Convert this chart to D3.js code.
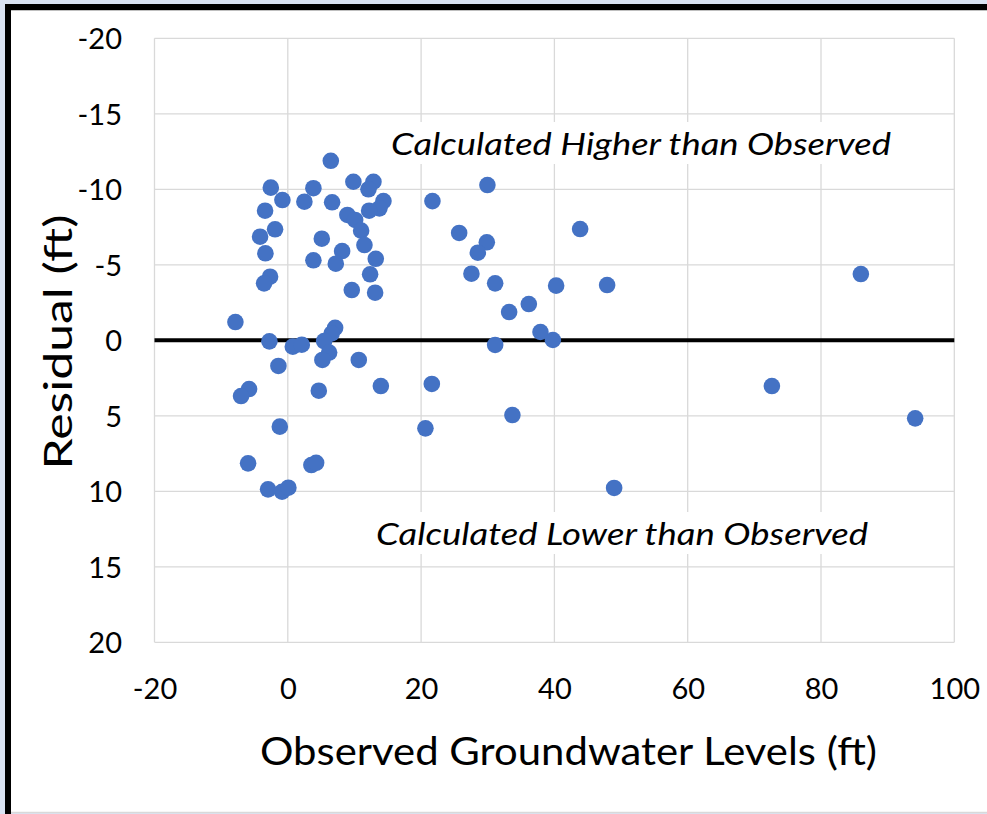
<!DOCTYPE html>
<html><head><meta charset="utf-8">
<script src="https://cdn.jsdelivr.net/npm/d3@7"></script>
<style>body{margin:0;padding:0;overflow:hidden;background:#dae3f3}</style>
</head><body>
<script>
const observed = [6.45,-2.55,3.84,9.84,12.85,12.1,-0.81,2.49,6.65,14.35,13.75,12.2,-3.41,8.94,10.1,11.0,11.5,-1.91,-4.16,5.1,8.15,-3.36,3.84,7.2,13.2,12.35,-2.66,-3.56,9.6,13.1,-7.86,7.1,6.57,-2.76,0.75,2.1,5.45,6.2,5.19,10.65,-1.41,-5.81,-7.01,4.65,13.96,-1.2,-5.96,3.54,4.25,-2.96,-0.86,0.09,29.95,21.7,43.86,25.71,29.86,28.51,27.55,31.11,40.26,36.16,33.21,37.91,39.77,31.11,21.61,20.65,33.7,47.91,48.96,85.98,72.63,94.13];
const residual = [-11.89,-10.11,-10.07,-10.5,-10.5,-10.0,-9.29,-9.18,-9.14,-9.22,-8.74,-8.58,-8.58,-8.3,-7.97,-7.26,-6.31,-7.35,-6.86,-6.73,-5.91,-5.76,-5.3,-5.07,-5.4,-4.37,-4.21,-3.77,-3.33,-3.15,-1.21,-0.83,-0.45,0.07,0.42,0.29,0.05,0.81,1.3,1.3,1.7,3.23,3.69,3.34,3.03,5.72,8.15,8.26,8.11,9.87,10.03,9.76,-10.28,-9.22,-7.37,-7.11,-6.49,-5.8,-4.41,-3.77,-3.62,-2.4,-1.87,-0.55,-0.02,0.31,2.89,5.83,4.95,-3.66,9.78,-4.39,3.03,5.17];
const xTicks = [-20,0,20,40,60,80,100];
const yTicks = [-20,-15,-10,-5,0,5,10,15,20];
const xTitle = "Observed Groundwater Levels (ft)";
const yTitle = "Residual (ft)";
const noteHigh = "Calculated Higher than Observed";
const noteLow = "Calculated Lower than Observed";

const W = 987, H = 814;
const svg = d3.select("body").append("svg").attr("width", W).attr("height", H);

// frame
svg.append("rect").attr("width", W).attr("height", H).attr("fill", "#dae3f3");
svg.append("rect").attr("x", 11).attr("y", 11).attr("width", W - 11).attr("height", 801).attr("fill", "#fff");
svg.append("rect").attr("x", 5).attr("y", 4).attr("width", W - 5).attr("height", 6).attr("fill", "#000");
svg.append("rect").attr("x", 5).attr("y", 4).attr("width", 6).attr("height", H - 4).attr("fill", "#000");
svg.append("line").attr("x1", 11).attr("x2", W).attr("y1", 10.5).attr("y2", 10.5).attr("stroke", "#bfbfbf").attr("stroke-width", 1);
svg.append("line").attr("x1", 11).attr("x2", W).attr("y1", 812.5).attr("y2", 812.5).attr("stroke", "#d9d9d9").attr("stroke-width", 1.5);

const x = d3.scaleLinear().domain([-20, 100]).range([154.5, 954.3]);
const y = d3.scaleLinear().domain([-20, 20]).range([38.3, 642.3]);

const font = "Lato, 'Open Sans', sans-serif";

// gridlines
const grid = svg.append("g");
grid.selectAll(".vg").data(xTicks).join("line")
  .attr("x1", d => x(d)).attr("x2", d => x(d)).attr("y1", y(-20)).attr("y2", y(20))
  .attr("stroke", "#d9d9d9").attr("stroke-width", 1.3);
grid.selectAll(".hg").data(yTicks).join("line")
  .attr("x1", x(-20)).attr("x2", x(100)).attr("y1", d => y(d)).attr("y2", d => y(d))
  .attr("stroke", "#d9d9d9").attr("stroke-width", 1.3);

// annotations with white backgrounds
function note(txt, cx, baseline, len) {
  const g = svg.append("g");
  const t = g.append("text").attr("x", cx).attr("y", baseline).attr("text-anchor", "middle")
    .attr("font-family", font).attr("font-style", "italic").attr("font-size", 31).attr("fill", "#000")
    .attr("textLength", len).attr("lengthAdjust", "spacingAndGlyphs").text(txt);
  const b = t.node().getBBox();
  g.insert("rect", "text").attr("x", b.x - 6).attr("y", b.y - 2).attr("width", b.width + 12).attr("height", b.height + 4).attr("fill", "#fff");
}
note(noteHigh, 641, 155, 500);
note(noteLow, 622, 545, 492);

// zero line
svg.append("line").attr("x1", x(-20)).attr("x2", x(100)).attr("y1", y(0)).attr("y2", y(0))
  .attr("stroke", "#000").attr("stroke-width", 4);

// axes labels
const xAxis = d3.axisBottom(x).tickValues(xTicks).tickSize(0).tickPadding(0).tickFormat(d => String(d));
const gx = svg.append("g").attr("transform", `translate(0,${y(20)})`).call(xAxis);
gx.select(".domain").remove();
gx.selectAll("text").attr("font-family", font).attr("font-size", 29).attr("fill", "#000")
  .attr("dy", null).attr("y", 57);

const yAxis = d3.axisLeft(y).tickValues(yTicks).tickSize(0).tickPadding(0).tickFormat(d => String(d));
const gy = svg.append("g").attr("transform", `translate(122,0)`).call(yAxis);
gy.select(".domain").remove();
gy.selectAll("text").attr("font-family", font).attr("font-size", 29).attr("fill", "#000")
  .attr("dy", "0.36em").attr("x", 0);

// points
svg.append("g").selectAll("circle").data(observed.map((v, i) => [v, residual[i]])).join("circle")
  .attr("cx", d => x(d[0])).attr("cy", d => y(d[1])).attr("r", 8.3).attr("fill", "#4472c4");

// titles
svg.append("text").attr("x", 568.5).attr("y", 765).attr("text-anchor", "middle")
  .attr("font-family", font).attr("font-size", 39).attr("fill", "#000")
  .attr("textLength", 617).attr("lengthAdjust", "spacingAndGlyphs").text(xTitle);
svg.append("text").attr("transform", "translate(72,342) rotate(-90)").attr("text-anchor", "middle")
  .attr("font-family", font).attr("font-size", 39).attr("fill", "#000")
  .attr("textLength", 255).attr("lengthAdjust", "spacingAndGlyphs").text(yTitle);
</script>
</body></html>
